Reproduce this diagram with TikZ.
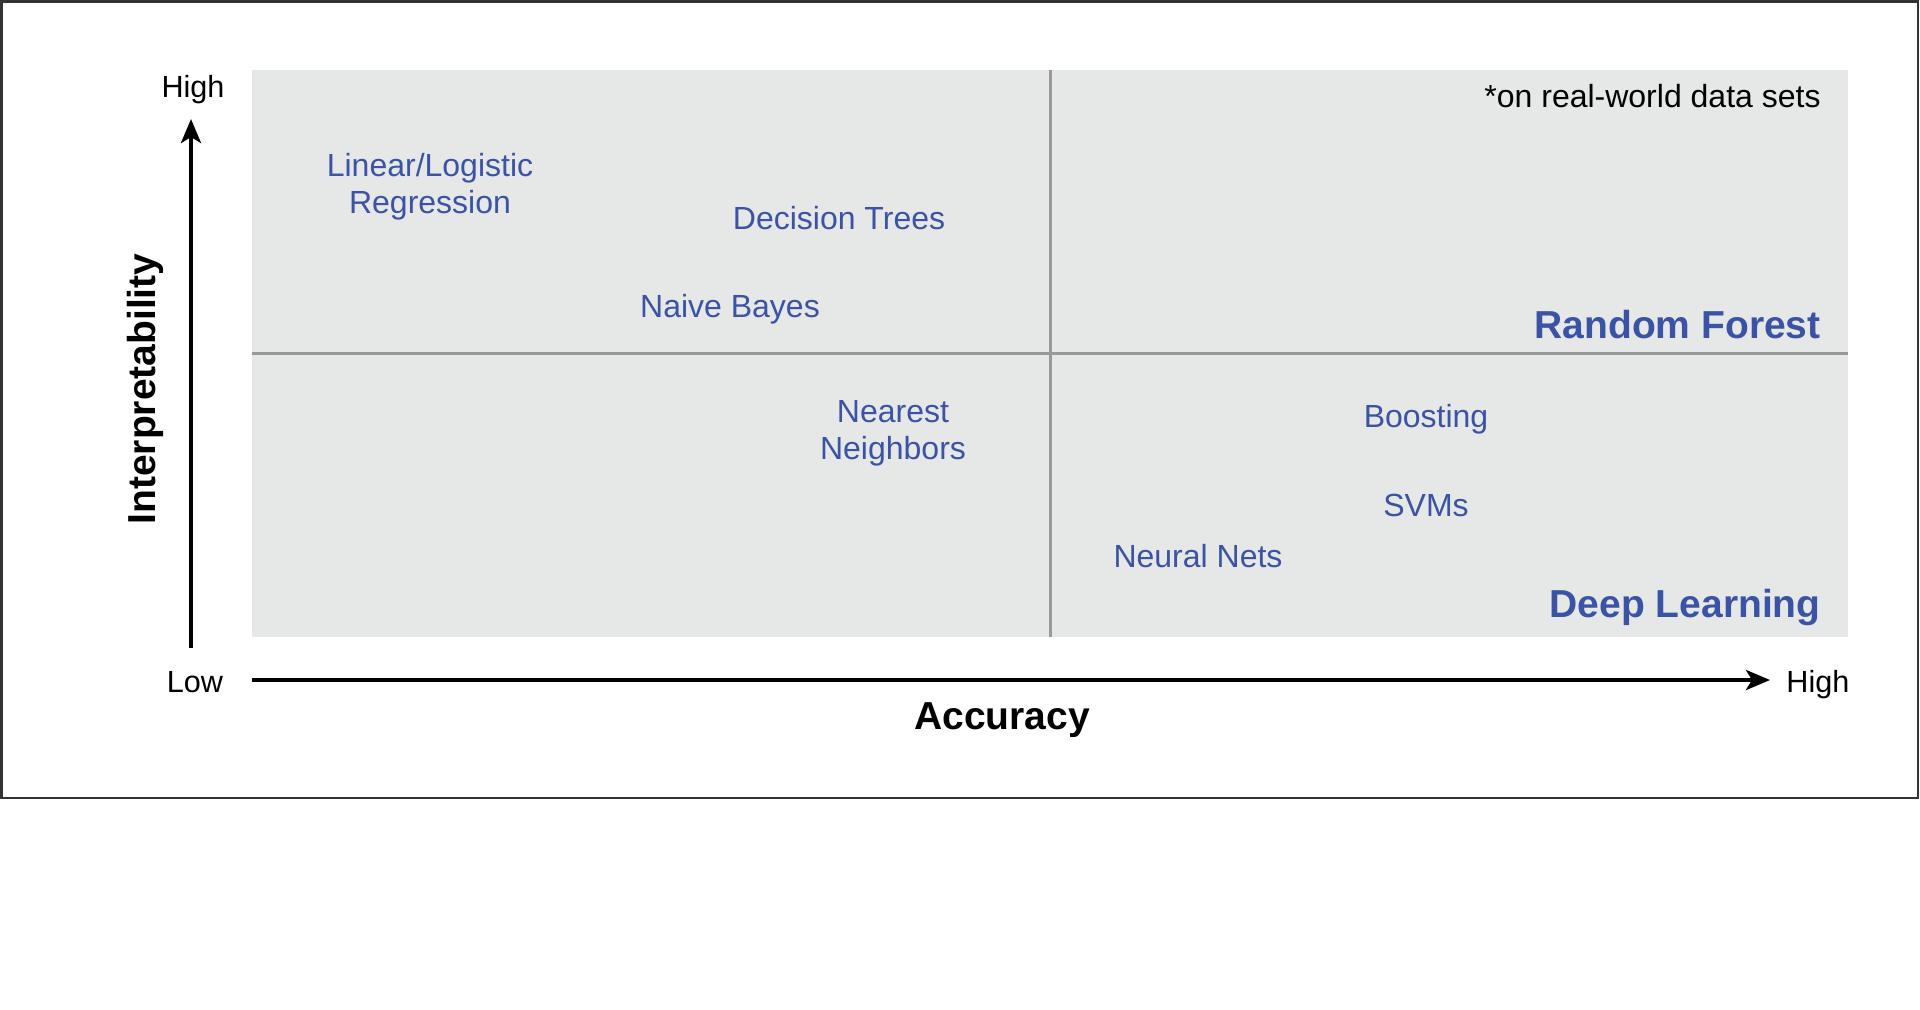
\documentclass[tikz,border=0pt]{standalone}
\usepackage{fontspec}
\setmainfont{Liberation Sans}
\usetikzlibrary{arrows.meta}
\definecolor{lblblue}{HTML}{3A53A4}
\definecolor{panelgray}{HTML}{E6E7E7}
\definecolor{divgray}{HTML}{999999}
\definecolor{framegray}{HTML}{333333}
\begin{document}
\begin{tikzpicture}[x=0.5pt,y=-0.5pt,
  lbl/.style={inner sep=0pt, text=lblblue, font=\fontsize{16pt}{18.5pt}\selectfont, align=center},
  biglbl/.style={inner sep=0pt, text=lblblue, font=\fontsize{19.5pt}{23pt}\selectfont\bfseries},
  axlbl/.style={inner sep=0pt, text=black, font=\fontsize{15.3pt}{18pt}\selectfont},
  axtitle/.style={inner sep=0pt, text=black, font=\fontsize{19.5pt}{23pt}\selectfont\bfseries},
  axis/.style={line width=2pt, -{Stealth[length=12pt,width=10pt,inset=3pt]}},
  divider/.style={line width=1.5pt, draw=divgray}
]
\useasboundingbox (0,0) rectangle (1920,1009);
\fill[white] (0,0) rectangle (1920,1009);
\draw[framegray, line width=1.2pt] (1.5,1.5) rectangle (1918,798);
% panel
\fill[panelgray] (252,70) rectangle (1848,637);
\coordinate (vtop) at (1050,70);
\coordinate (vbot) at (1050,637);
\coordinate (hleft) at (252,353);
\coordinate (hright) at (1848,353);
\draw[divider] (vtop) -- (vbot);
\draw[divider] (hleft) -- (hright);
% axes
\coordinate (yfrom) at (191,648);
\coordinate (yto) at (191,119);
\coordinate (xfrom) at (252,680);
\coordinate (xto) at (1770,680);
\draw[axis] (yfrom) -- (yto);
\draw[axis] (xfrom) -- (xto);
\node[axlbl, anchor=base] (yhigh) at (193,97) {High};
\node[axlbl, anchor=base] (xlow) at (195,692) {Low};
\node[axlbl, anchor=base west] (xhigh) at (1786,692) {High};
\node[axtitle, anchor=base] (acc) at (1002,729) {Accuracy};
\node[axtitle, rotate=90, anchor=center] (interp) at (145,389) {Interpretability};
% note
\node[axlbl, anchor=base east, font=\fontsize{16pt}{18.5pt}\selectfont] (note) at (1821,107) {*on real-world data sets};
% methods
\node[lbl, anchor=base] (linreg) at (430,213) {Linear/Logistic\\Regression};
\node[lbl, anchor=base] (dtree) at (839,229) {Decision Trees};
\node[lbl, anchor=base] (nbayes) at (730,317) {Naive Bayes};
\node[biglbl, anchor=base east] (rforest) at (1821,338) {Random Forest};
\node[lbl, anchor=base] (knn) at (893,459) {Nearest\\Neighbors};
\node[lbl, anchor=base] (boost) at (1426,427) {Boosting};
\node[lbl, anchor=base] (svm) at (1426,516) {SVMs};
\node[lbl, anchor=base] (nnets) at (1198,567) {Neural Nets};
\node[biglbl, anchor=base east] (dlearn) at (1821,617) {Deep Learning};
\end{tikzpicture}
\end{document}
